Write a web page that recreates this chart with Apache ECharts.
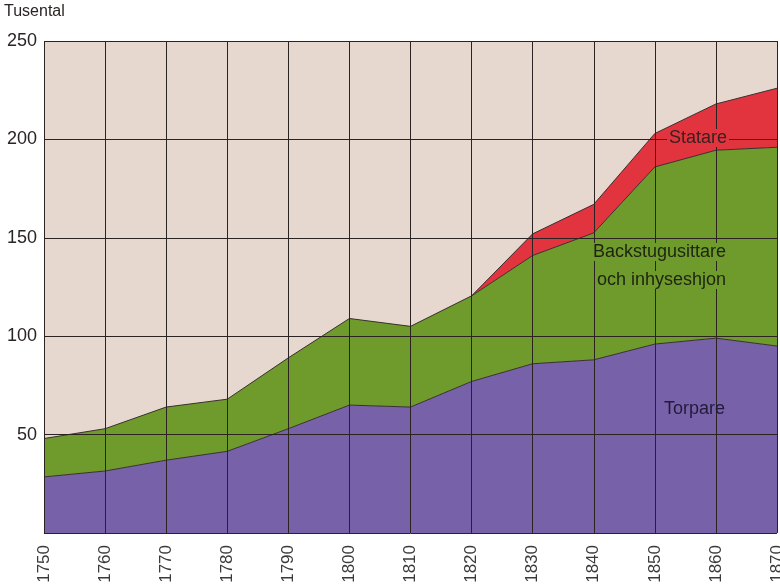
<!DOCTYPE html>
<html>
<head>
<meta charset="utf-8">
<script src="https://cdn.jsdelivr.net/npm/echarts@6/dist/echarts.min.js"></script>
<style>
  html, body { margin: 0; padding: 0; background: #fff; }
  #chart { width: 780px; height: 584px; }
</style>
</head>
<body>
<div id="chart"></div>
<script>
const years = ['1750', '1760', '1770', '1780', '1790', '1800', '1810', '1820', '1830', '1840', '1850', '1860', '1870']
// tusental
const torpare = [28.5, 31.5, 37, 41.5, 53, 65, 64, 77, 86, 88, 96, 99, 95]
const backstugusittare = [19.5, 21.5, 27, 26.5, 36, 44, 41, 43.5, 55, 64.5, 90, 95.5, 101]
const statare = [null, null, null, null, null, null, null, 0, 11, 14.5, 17, 23.5, 30]

const font = 'Liberation Sans, Arial, sans-serif'
const ink = '#2a2424'

const chart = echarts.init(document.getElementById('chart'))

const areaSeries = (name, data, color) => ({
	name,
	type: 'line',
	stack: 'total',
	data,
	symbol: 'none',
	lineStyle: { color: '#3a2f2f', width: 1 },
	areaStyle: { color, opacity: 1 },
	z: 2,
})

const option = {
	animation: false,
	grid: {
		left: 44,
		right: 3,
		top: 41,
		bottom: 51,
		outerBoundsMode: 'none',
		containLabel: false,
		show: true,
		backgroundColor: '#e6d7cf',
		borderWidth: 0,
	},
	xAxis: {
		type: 'category',
		data: years,
		boundaryGap: false,
		z: 5,
		axisLine: { show: false },
		axisTick: { show: false },
		axisLabel: {
			rotate: 90,
			margin: 12,
			color: '#3a3a3a',
			fontFamily: font,
			fontSize: 17,
		},
		splitLine: { show: true, lineStyle: { color: '#2b2222', width: 1 } },
	},
	yAxis: {
		type: 'value',
		min: 0,
		max: 250,
		interval: 50,
		z: 5,
		axisLine: { show: false },
		axisTick: { show: false },
		axisLabel: {
			margin: 7,
			color: ink,
			fontFamily: font,
			fontSize: 18,
			formatter: v => (v === 0 ? '' : v),
		},
		splitLine: { show: true, lineStyle: { color: '#2b2222', width: 1 } },
	},
	graphic: [
		{
			type: 'text', left: 4, top: 4, z: 10,
			style: { text: 'Tusental', fill: ink, font: '16px ' + font },
		},
		{
			type: 'text', left: 667, top: 129, z: 10,
			style: { text: 'Statare', fill: '#3a2020', font: '18px ' + font, backgroundColor: '#e2343f', padding: [0, 2] },
		},
		{
			type: 'text', left: 592, top: 243, z: 10,
			style: { text: 'Backstugusittare', fill: '#1e2410', font: '18px ' + font, backgroundColor: '#6f9a2c', padding: [0, 1] },
		},
		{
			type: 'text', left: 596, top: 271, z: 10,
			style: { text: 'och inhyseshjon', fill: '#1e2410', font: '18px ' + font, backgroundColor: '#6f9a2c', padding: [0, 1] },
		},
		{
			type: 'text', left: 664, top: 400, z: 10,
			style: { text: 'Torpare', fill: '#221a3a', font: '18px ' + font },
		},
	],
	series: [
		areaSeries('Torpare', torpare, '#7761a8'),
		areaSeries('Backstugusittare och inhyseshjon', backstugusittare, '#6f9a2c'),
		areaSeries('Statare', statare, '#e2343f'),
	],
}

chart.setOption(option)
</script>
</body>
</html>
